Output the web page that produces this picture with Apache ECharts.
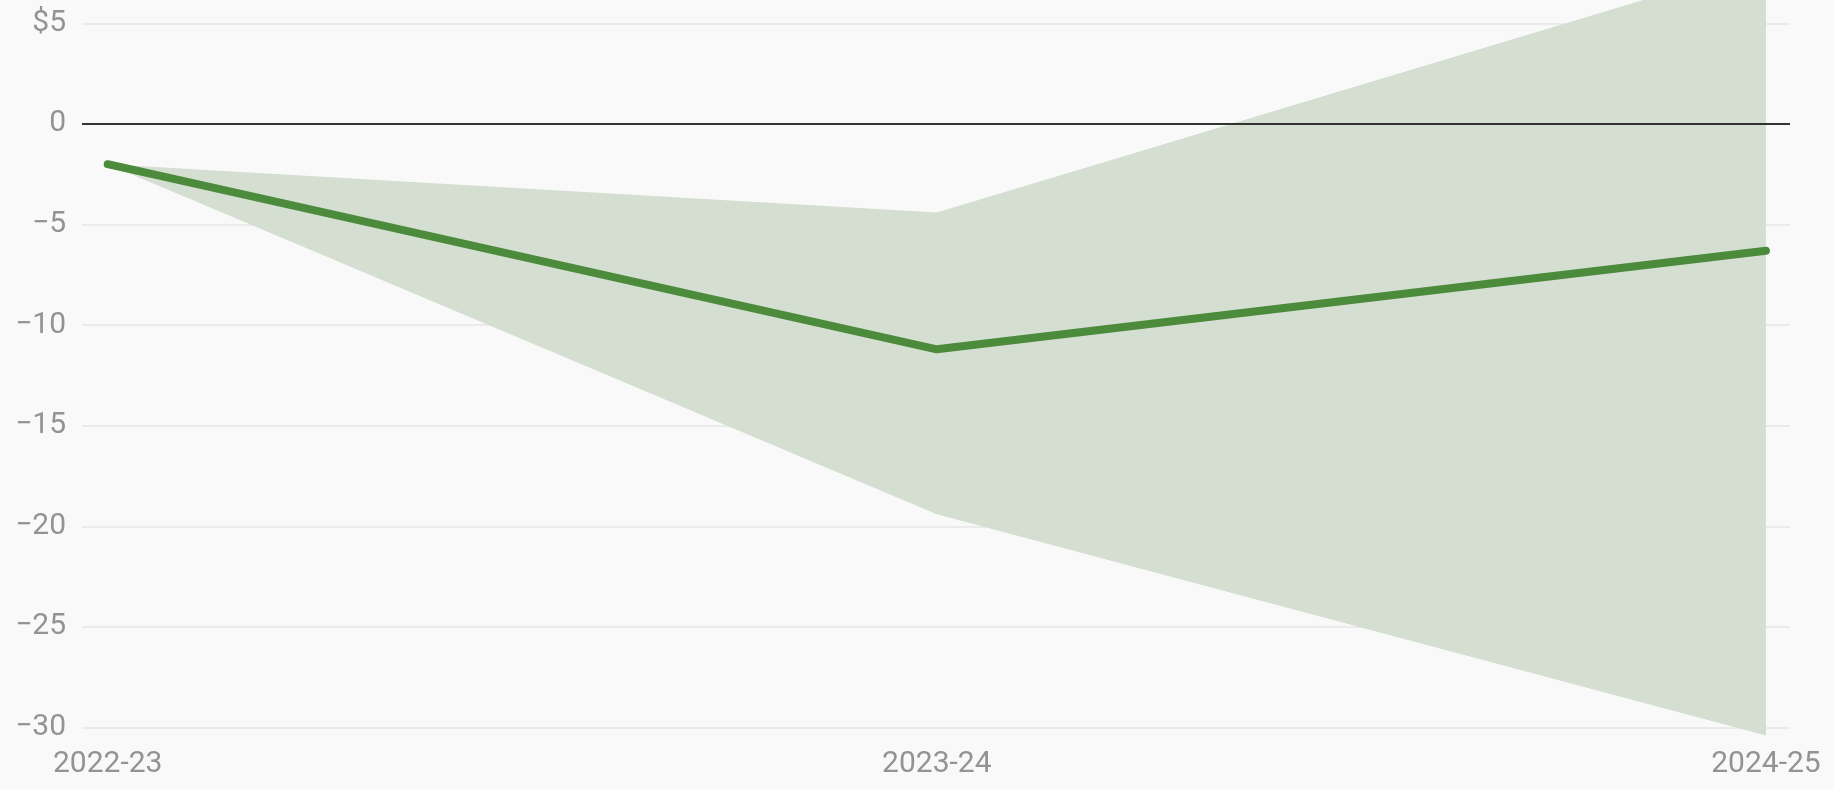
<!DOCTYPE html>
<html>
<head>
<meta charset="utf-8">
<style>
  html, body { margin: 0; padding: 0; background: #f9f9f9; }
  #chart { width: 1834px; height: 790px; }
</style>
<script src="https://cdn.jsdelivr.net/npm/echarts@6/dist/echarts.min.js"></script>
</head>
<body>
<div id="chart"></div>
<script>
// Fiscal years on the horizontal axis
const periods = ['2022-23', '2023-24', '2024-25'];
// Central estimate (billions of dollars)
const central = [-2, -11.2, -6.3];
// Range of estimates: lower and upper bounds
const rangeLow = [-2, -19.4, -30.4];
const rangeHigh = [-2, -4.4, 8];
// Vertical axis ticks
const yMin = -30, yMax = 5, yStep = 5;

const chart = echarts.init(document.getElementById('chart'), null, { renderer: 'canvas' });

const labelFont = {
  color: '#939393',
  fontFamily: 'Roboto',
  fontSize: 30
};

function yLabel(v) {
  if (v === yMax) return '$' + v;
  if (v < 0) return '\u2212' + Math.abs(v);
  return String(v);
}

const option = {
  backgroundColor: '#f9f9f9',
  animation: false,
  grid: {
    left: 82, right: 44, top: 23.4, bottom: 62.5,
    containLabel: false,
    outerBoundsMode: 'none'
  },
  xAxis: {
    type: 'value',
    min: -0.031,
    max: 2.029,
    axisLine: { show: false },
    axisTick: { show: false },
    splitLine: { show: false },
    axisLabel: Object.assign({
      customValues: periods.map((p, i) => i),
      formatter: v => periods[Math.round(v)] || '',
      margin: 22
    }, labelFont)
  },
  yAxis: {
    type: 'value',
    min: yMin,
    max: yMax,
    interval: yStep,
    axisLine: { show: false },
    axisTick: { show: false },
    splitLine: { show: true, lineStyle: { color: '#ebebeb', width: 2 } },
    axisLabel: Object.assign({ formatter: yLabel, margin: 16 }, labelFont)
  },
  series: [
    {
      // Shaded range between the lower and upper estimates
      type: 'custom',
      z: 1,
      silent: true,
      data: periods.map((p, i) => [i, rangeLow[i], rangeHigh[i]]),
      renderItem: function (params, api) {
        if (params.dataIndex !== 0) return null;
        const pts = [];
        for (let i = 0; i < periods.length; i++) pts.push(api.coord([i, rangeHigh[i]]));
        for (let i = periods.length - 1; i >= 0; i--) pts.push(api.coord([i, rangeLow[i]]));
        return {
          type: 'polygon',
          shape: { points: pts },
          style: { fill: '#d4ded1' }
        };
      }
    },
    {
      // Central estimate line, plus the zero baseline
      type: 'line',
      z: 3,
      silent: true,
      data: periods.map((p, i) => [i, central[i]]),
      symbol: 'none',
      lineStyle: { color: '#4c8a3c', width: 8, cap: 'round', join: 'round' },
      markLine: {
        silent: true,
        symbol: 'none',
        label: { show: false },
        lineStyle: { color: '#333333', width: 2, type: 'solid' },
        data: [{ yAxis: 0 }],
        z: 2
      }
    }
  ]
};

chart.setOption(option);
</script>
</body>
</html>
